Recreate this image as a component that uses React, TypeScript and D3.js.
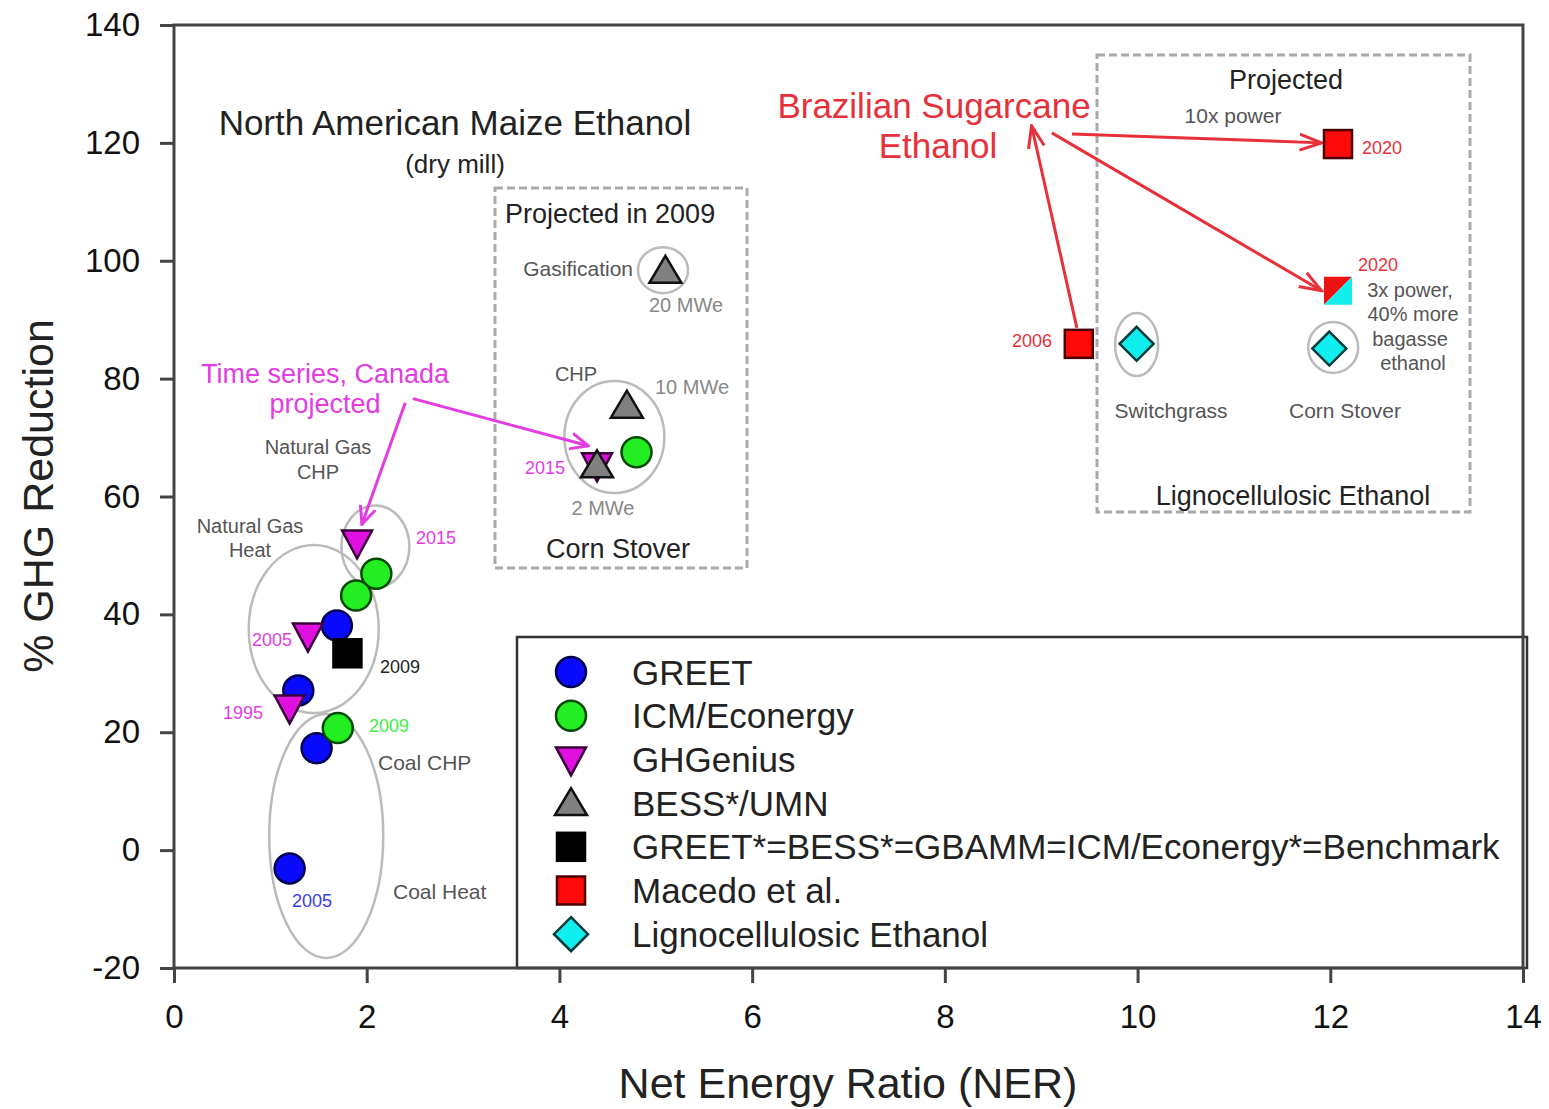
import React, { useEffect, useRef } from 'react';
import * as d3 from 'd3';

// series values (NER, % GHG reduction)
const greetX = [1.69, 1.29, 1.48, 1.2];
const greetY = [38.1, 27.1, 17.3, -3.1];
const icmX = [2.1, 1.89, 1.7, 4.8];
const icmY = [46.9, 43.2, 20.7, 67.5];
const ghgX = [1.9, 1.39, 1.2, 4.39];
const ghgY = [52.2, 36.4, 24.2, 65.3];
const bessX = [5.1, 4.7, 4.39];
const bessY = [98.3, 75.4, 65.3];
const benchX = [1.8];
const benchY = [33.4];
const macedoX = [9.39, 12.08, 12.08];
const macedoY = [85.9, 119.8, 94.9];
const lignoX = [9.99, 11.99];
const lignoY = [85.9, 85.1];

const xTicks = [0, 2, 4, 6, 8, 10, 12, 14];
const yTicks = [-20, 0, 20, 40, 60, 80, 100, 120, 140];

const legendNames = [
  'GREET',
  'ICM/Econergy',
  'GHGenius',
  'BESS*/UMN',
  'GREET*=BESS*=GBAMM=ICM/Econergy*=Benchmark',
  'Macedo et al.',
  'Lignocellulosic Ethanol',
];

const W = 1549;
const H = 1109;
const FONT = '"Liberation Sans", Arial, sans-serif';

const x = d3.scaleLinear().domain([0, 14]).range([174, 1523]);
const y = d3.scaleLinear().domain([-20, 140]).range([968, 25]);

const STYLE: Record<string, { fill: string; stroke: string }> = {
  circleBlue: { fill: '#0a0aff', stroke: '#00004a' },
  circleGreen: { fill: '#22ee22', stroke: '#004a00' },
  triDown: { fill: '#e010e0', stroke: '#3a003a' },
  triUp: { fill: '#808080', stroke: '#111' },
  square: { fill: '#000', stroke: '#000' },
  squareRed: { fill: '#ff0a0a', stroke: '#4a0000' },
  diamond: { fill: '#11eeee', stroke: '#003a3a' },
};

function Marker({ type, cx, cy }: { type: string; cx: number; cy: number }) {
  const s = STYLE[type];
  const common = { fill: s.fill, stroke: s.stroke, strokeWidth: 2.5 };
  if (type === 'circleBlue' || type === 'circleGreen')
    return <circle cx={cx} cy={cy} r={15} {...common} />;
  if (type === 'triDown')
    return <path d={`M${cx - 15},${cy - 12}L${cx + 15},${cy - 12}L${cx},${cy + 16}Z`} {...common} />;
  if (type === 'triUp')
    return <path d={`M${cx},${cy - 15}L${cx + 16},${cy + 12}L${cx - 16},${cy + 12}Z`} {...common} />;
  if (type === 'square' || type === 'squareRed')
    return <rect x={cx - 14} y={cy - 14} width={28} height={28} {...common} />;
  if (type === 'diamond')
    return <path d={`M${cx},${cy - 17}L${cx + 17},${cy}L${cx},${cy + 17}L${cx - 17},${cy}Z`} {...common} />;
  return null;
}

const legendTypes = ['circleBlue', 'circleGreen', 'triDown', 'triUp', 'square', 'squareRed', 'diamond'];

export default function App() {
  const xAxisRef = useRef<SVGGElement>(null);
  const yAxisRef = useRef<SVGGElement>(null);

  useEffect(() => {
    const xa = d3.select(xAxisRef.current!);
    xa.call(d3.axisBottom(x).tickValues(xTicks).tickSize(15).tickPadding(22).tickFormat((d: any) => String(d)) as any);
    xa.select('.domain').remove();
    xa.selectAll('line').attr('stroke', '#444').attr('stroke-width', 3);
    xa.selectAll('text').attr('font-size', 33).attr('font-family', FONT).attr('fill', '#111');

    const ya = d3.select(yAxisRef.current!);
    ya.call(d3.axisLeft(y).tickValues(yTicks).tickSize(14).tickPadding(20).tickFormat((d: any) => String(d)) as any);
    ya.select('.domain').remove();
    ya.selectAll('line').attr('stroke', '#444').attr('stroke-width', 3);
    ya.selectAll('text').attr('font-size', 33).attr('font-family', FONT).attr('fill', '#111');
  }, []);

  const grey = '#555';
  const mag = '#e23ce2';
  const red = '#e8303a';

  const ellipses = [
    { cx: 1.45, cy: 37.5, rx: 65, ry: 84 },
    { cx: 2.09, cy: 51.5, rx: 34, ry: 41 },
    { cx: 1.58, cy: 2.4, rx: 57, ry: 122 },
    { cx: 4.57, cy: 70.1, rx: 50, ry: 56 },
    { cx: 5.075, cy: 98.4, rx: 25, ry: 23 },
    { cx: 9.99, cy: 85.8, rx: 21.5, ry: 31.5 },
    { cx: 12.03, cy: 85.3, rx: 25, ry: 25.5 },
  ];

  const magArrows = [
    { x1: 2.4, y1: 75.9, x2: 1.95, y2: 55.3 },
    { x1: 2.48, y1: 76.6, x2: 4.3, y2: 68.6 },
  ];
  const redArrows = [
    { x1: 9.32, y1: 121.5, x2: 11.91, y2: 120 },
    { x1: 9.11, y1: 121.7, x2: 11.91, y2: 94.9 },
    { x1: 9.37, y1: 88.6, x2: 8.9, y2: 122.9 },
  ];

  const txt = (t: string, tx: number, ty: number, size: number, color: string, anchor = 'middle', key?: string) => (
    <text key={key ?? t + tx + ty} x={tx} y={ty} fontSize={size} fill={color} textAnchor={anchor} dominantBaseline="central" fontFamily={FONT}>
      {t}
    </text>
  );

  const series: [number[], number[], string][] = [
    [greetX, greetY, 'circleBlue'],
    [benchX, benchY, 'square'],
    [icmX, icmY, 'circleGreen'],
    [ghgX, ghgY, 'triDown'],
    [bessX, bessY, 'triUp'],
    [lignoX, lignoY, 'diamond'],
  ];

  return (
    <svg width={W} height={H} style={{ position: 'absolute', left: 0, top: 0, background: '#fff' }}>
      <defs>
        <marker id="mHead" viewBox="0 0 20 20" refX="18" refY="10" markerWidth="20" markerHeight="20" markerUnits="userSpaceOnUse" orient="auto">
          <path d="M0,2L18,10L0,18" fill="none" stroke={mag} strokeWidth={3} />
        </marker>
        <marker id="rHead" viewBox="0 0 24 20" refX="22" refY="10" markerWidth="24" markerHeight="20" markerUnits="userSpaceOnUse" orient="auto">
          <path d="M0,2L22,10L0,18" fill="none" stroke={red} strokeWidth={3} />
        </marker>
      </defs>

      {/* dashed boxes */}
      <rect x={495} y={188} width={252} height={380} fill="none" stroke="#aaa" strokeWidth={3} strokeDasharray="8 4" />
      <rect x={1097} y={55} width={373} height={457} fill="none" stroke="#aaa" strokeWidth={3} strokeDasharray="8 4" />

      {/* grouping ellipses */}
      {ellipses.map((e, i) => (
        <ellipse key={i} cx={x(e.cx)} cy={y(e.cy)} rx={e.rx} ry={e.ry} fill="none" stroke="#bbb" strokeWidth={2.5} />
      ))}

      {/* arrows */}
      {magArrows.map((a, i) => (
        <line key={'m' + i} x1={x(a.x1)} y1={y(a.y1)} x2={x(a.x2)} y2={y(a.y2)} stroke={mag} strokeWidth={3} markerEnd="url(#mHead)" />
      ))}
      {redArrows.map((a, i) => (
        <line key={'r' + i} x1={x(a.x1)} y1={y(a.y1)} x2={x(a.x2)} y2={y(a.y2)} stroke={red} strokeWidth={3} markerEnd="url(#rHead)" />
      ))}

      {/* data marks */}
      {series.map(([xs, ys, type]) =>
        xs.map((v, i) => <Marker key={type + i} type={type} cx={x(v)} cy={y(ys[i])} />)
      )}
      {macedoX.map((v, i) => {
        const cx = x(v);
        const cy = y(macedoY[i]);
        if (i === 2) {
          return (
            <g key={'mac' + i}>
              <path d={`M${cx - 14},${cy - 14}L${cx + 14},${cy - 14}L${cx - 14},${cy + 14}Z`} fill="#ee1111" />
              <path d={`M${cx + 14},${cy - 14}L${cx + 14},${cy + 14}L${cx - 14},${cy + 14}Z`} fill="#11eeee" />
            </g>
          );
        }
        return <Marker key={'mac' + i} type="squareRed" cx={cx} cy={cy} />;
      })}

      {/* annotations */}
      {txt('North American Maize Ethanol', 455, 122, 35, '#222')}
      {txt('(dry mill)', 455, 164, 26, '#222')}
      {txt('Projected in 2009', 505, 214, 27, '#222', 'start')}
      {txt('Gasification', 633, 268, 21, grey, 'end')}
      {txt('20 MWe', 686, 305, 20, '#888')}
      {txt('CHP', 576, 374, 20, grey)}
      {txt('10 MWe', 692, 387, 20, '#888')}
      {txt('2015', 545, 468, 18, mag, 'middle', 'y2015b')}
      {txt('2 MWe', 603, 508, 20, '#888')}
      {txt('Corn Stover', 618, 549, 27, '#222', 'middle', 'cs1')}
      {txt('Time series, Canada', 325, 374, 27, mag)}
      {txt('projected', 325, 404, 27, mag)}
      {txt('Natural Gas', 318, 447, 20, grey, 'middle', 'ng1')}
      {txt('CHP', 318, 472, 20, grey, 'middle', 'chp2')}
      {txt('Natural Gas', 250, 526, 20, grey, 'middle', 'ng2')}
      {txt('Heat', 250, 550, 20, grey)}
      {txt('2015', 436, 538, 18, mag, 'middle', 'y2015a')}
      {txt('2005', 272, 640, 18, mag, 'middle', 'y2005m')}
      {txt('2009', 400, 667, 18, '#222', 'middle', 'y2009k')}
      {txt('1995', 243, 713, 18, mag)}
      {txt('2009', 389, 726, 18, '#44ee44', 'middle', 'y2009g')}
      {txt('Coal CHP', 378, 762, 21, grey, 'start')}
      {txt('Coal Heat', 393, 891, 21, grey, 'start')}
      {txt('2005', 312, 901, 18, '#3a3aee', 'middle', 'y2005b')}
      {txt('Brazilian Sugarcane', 934, 105, 35, red)}
      {txt('Ethanol', 938, 145, 35, red)}
      {txt('Projected', 1286, 80, 27, '#222')}
      {txt('10x power', 1233, 115, 21, grey)}
      {txt('2020', 1362, 148, 18, red, 'start', 'y2020a')}
      {txt('2020', 1378, 265, 18, red, 'middle', 'y2020b')}
      {txt('3x power,', 1410, 290, 20, grey)}
      {txt('40% more', 1413, 314, 20, grey)}
      {txt('bagasse', 1410, 339, 20, grey)}
      {txt('ethanol', 1413, 363, 20, grey)}
      {txt('2006', 1032, 341, 18, red)}
      {txt('Switchgrass', 1171, 410, 21, grey)}
      {txt('Corn Stover', 1345, 410, 21, grey, 'middle', 'cs2')}
      {txt('Lignocellulosic Ethanol', 1293, 496, 27, '#222', 'middle', 'le1')}

      {/* legend */}
      <rect x={517} y={637} width={1010} height={331} fill="#fff" stroke="#333" strokeWidth={2.5} />
      {legendNames.map((name, i) => {
        const ly = 672 + i * 43.7;
        return (
          <g key={name}>
            <Marker type={legendTypes[i]} cx={571} cy={ly} />
            <text x={632} y={ly} fontSize={35} fill="#222" dominantBaseline="central" fontFamily={FONT}>
              {name}
            </text>
          </g>
        );
      })}

      {/* frame + axes */}
      <rect x={x(0)} y={y(140)} width={x(14) - x(0)} height={y(-20) - y(140)} fill="none" stroke="#444" strokeWidth={3} />
      <g ref={xAxisRef} transform={`translate(0,${y(-20)})`} />
      <g ref={yAxisRef} transform={`translate(${x(0)},0)`} />

      <text x={848} y={1083} fontSize={43} fill="#222" textAnchor="middle" dominantBaseline="central" fontFamily={FONT}>
        Net Energy Ratio (NER)
      </text>
      <text transform="translate(38,496) rotate(-90)" fontSize={43} fill="#222" textAnchor="middle" dominantBaseline="central" fontFamily={FONT}>
        % GHG Reduction
      </text>
    </svg>
  );
}
